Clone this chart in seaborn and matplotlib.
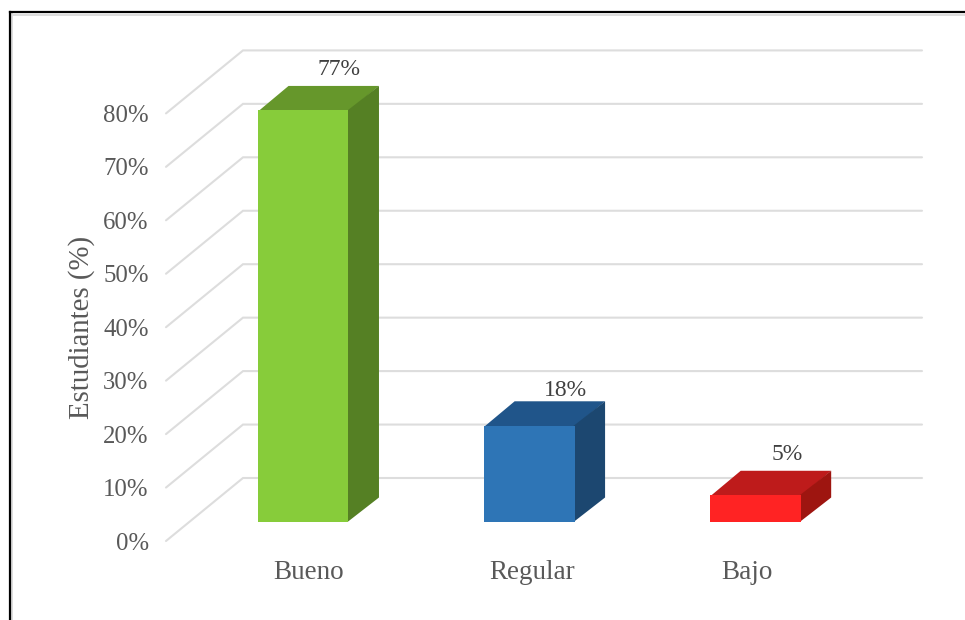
import numpy as np
import pandas as pd
import matplotlib
matplotlib.use('Agg')
import matplotlib.pyplot as plt
import seaborn as sns
from matplotlib.lines import Line2D
from matplotlib.patches import Polygon
from matplotlib.transforms import Affine2D, IdentityTransform

categories = ['Bueno', 'Regular', 'Bajo']
values = [77, 18, 5]
value_labels = ['77%', '18%', '5%']
tick_values = [0, 10, 20, 30, 40, 50, 60, 70, 80]
tick_labels = ['0%', '10%', '20%', '30%', '40%', '50%', '60%', '70%', '80%']
y_title = 'Estudiantes (%)'

front_colors = ['#87CC3A', '#2E75B6', '#FF2323']
top_colors = ['#66972B', '#20558A', '#BE1B1B']
side_colors = ['#558024', '#1C4770', '#9E1510']

GRID = '#DDDDDD'
TEXT = '#595959'
W, H = 965, 620

sns.set_theme(style='white')
plt.rcParams['font.family'] = ['Liberation Serif', 'DejaVu Serif']

fig = plt.figure(figsize=(W / 100, H / 100), dpi=100)
fig.patch.set_facecolor('white')
ax = fig.add_axes([243 / W, (H - 522) / H, 679 / W, 427.6 / H])
ax.patch.set_alpha(0)

df = pd.DataFrame({'categoria': categories, 'valor': values})
sns.barplot(data=df, x='categoria', y='valor', hue='categoria', palette=front_colors,
            width=0.4, saturation=1, legend=False, ax=ax, linewidth=0, zorder=3)

ax.set_xlim(-0.2665, 2.7366)
ax.set_ylim(0, 80)
ax.set_xlabel('')
sns.despine(ax=ax, left=True, bottom=True)
ax.grid(False)

# 3D look: depth of the plot floor and of each bar, in pixels
FLOOR_DX, FLOOR_DY = 77, 63
BACK_DY = 44
BAR_DX, BAR_DY = 30.5, 24.5
px = IdentityTransform()

# back wall lines + slanted lines going to the front
for v in tick_values:
    bx, by = ax.transAxes.transform((0, 0))[0], ax.transData.transform((0, v))[1] + BACK_DY
    ex = ax.transAxes.transform((1, 0))[0]
    ax.add_artist(Line2D([bx - FLOOR_DX, bx, ex], [by - FLOOR_DY, by, by], color=GRID, lw=1.5,
                         transform=px, zorder=1, clip_on=False, solid_joinstyle='miter'))

# top and side faces, built from the bars seaborn drew (1px under the front face to avoid a seam)
for bar, top_c, side_c in zip(ax.patches, top_colors, side_colors):
    (x0, y0), (x1, y1) = ax.transData.transform(
        [(bar.get_x(), 0), (bar.get_x() + bar.get_width(), bar.get_height())])
    ax.add_artist(Polygon([(x0, y1 - 1), (x1, y1 - 1), (x1 + BAR_DX, y1 + BAR_DY), (x0 + BAR_DX, y1 + BAR_DY)],
                          closed=True, facecolor=top_c, edgecolor='none', transform=px, zorder=2.8, clip_on=False))
    ax.add_artist(Polygon([(x1 - 1, y0), (x1 + BAR_DX, y0 + BAR_DY), (x1 + BAR_DX, y1 + BAR_DY), (x1 - 1, y1)],
                          closed=True, facecolor=side_c, edgecolor='none', transform=px, zorder=2.9, clip_on=False))

label_offsets = [(36, 41), (36, 35), (32, 41)]
for i, (v, lab) in enumerate(zip(values, value_labels)):
    ax.annotate(lab, xy=(i, v), xytext=label_offsets[i], textcoords='offset pixels', ha='center', va='center',
                fontsize=17, color='#404040')

# tick labels sit on the front edge of the floor
ax.set_yticks(tick_values)
ax.set_yticklabels(tick_labels, fontsize=17.8, color=TEXT)
ax.tick_params(axis='y', length=0, pad=12.5)
for lab in ax.get_yticklabels():
    lab.set_transform(lab.get_transform() + Affine2D().translate(-FLOOR_DX, BACK_DY - FLOOR_DY))

ax.set_xticks(range(len(categories)))
ax.set_xticklabels(categories, fontsize=19.5, color=TEXT)
ax.tick_params(axis='x', length=0, pad=27.3)
for lab, dx in zip(ax.get_xticklabels(), [5, 3, -8]):
    lab.set_transform(lab.get_transform() + Affine2D().translate(dx, 0))

ax.set_ylabel(y_title, fontsize=20.8, color=TEXT)
ax.yaxis.set_label_coords(-0.218, 0.456)

# frame of the screenshot, top and left only reach the image edge
for xs, ys, c, lw in [([13, W], [H - 14.5, H - 14.5], '#DDDDDD', 1.4),
                      ([11.5, 11.5], [0, H - 14], '#DDDDDD', 1.4),
                      ([9.5, W], [H - 12, H - 12], '#000000', 1.6),
                      ([9.5, 9.5], [0, H - 12], '#000000', 1.6)]:
    fig.add_artist(Line2D(xs, ys, color=c, lw=lw, transform=px, solid_capstyle='projecting'))

fig.savefig('out.png', dpi=100)
plt.close(fig)
